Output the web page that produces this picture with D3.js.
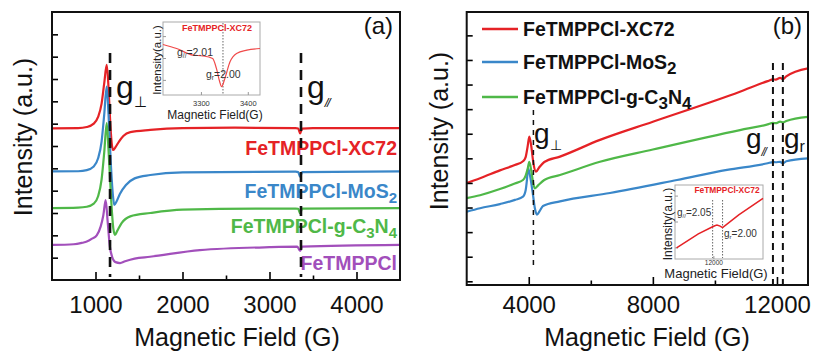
<!DOCTYPE html>
<html>
<head>
<meta charset="utf-8">
<script src="https://cdn.jsdelivr.net/npm/d3@7/dist/d3.min.js"></script>
<style>
body { margin: 0; background: #fff; }
svg { display: block; font-family: "Liberation Sans", Arial, sans-serif; }
</style>
</head>
<body>
<script>
// ---- data: [magnetic field (G), intensity (a.u.)] ----
const names = ["FeTMPPCl-XC72", "FeTMPPCl-MoS2", "FeTMPPCl-g-C3N4", "FeTMPPCl"];
const nameParts = [
    [["FeTMPPCl-XC72", 0]],
    [["FeTMPPCl-MoS", 0], ["2", 1]],
    [["FeTMPPCl-g-C", 0], ["3", 1], ["N", 0], ["4", 1]],
    [["FeTMPPCl", 0]]
];
const colors = ["#e52226", "#3a87c9", "#4fb848", "#a24fbb"];

// panel (a)
const xc72A = [[500,6.79],[800,6.80],[900,6.85],[980,7.0],[1030,7.3],[1070,7.9],[1100,8.8],[1129,9.63],[1150,8.6],[1170,7.0],[1190,6.0],[1205,5.82],[1230,5.95],[1270,6.2],[1320,6.45],[1400,6.62],[1630,6.72],[2000,6.80],[2600,6.82],[3300,6.80],[3330,6.78],[3352,6.56],[3375,6.78],[3500,6.80],[4500,6.80]];
const mos2A = [[500,4.86],[800,4.87],[900,4.92],[980,5.08],[1030,5.45],[1070,6.2],[1100,7.4],[1129,8.66],[1150,7.4],[1175,5.3],[1200,3.8],[1216,3.36],[1240,3.5],[1280,3.85],[1350,4.25],[1450,4.55],[1630,4.70],[2000,4.82],[3300,4.85],[3330,4.83],[3352,4.62],[3375,4.83],[4500,4.86]];
const c3n4A = [[500,3.22],[800,3.24],[900,3.28],[980,3.42],[1030,3.75],[1070,4.5],[1100,5.7],[1129,7.03],[1150,5.8],[1180,3.6],[1205,2.3],[1224,2.02],[1250,2.2],[1300,2.55],[1400,2.85],[1630,3.0],[2000,3.15],[3300,3.20],[3330,3.19],[3352,2.98],[3375,3.2],[4500,3.22]];
const pureA = [[500,1.57],[750,1.6],[850,1.67],[900,1.72],[960,1.85],[1014,2.0],[1060,2.4],[1090,2.9],[1117,3.58],[1140,2.6],[1165,1.5],[1190,1.05],[1230,0.8],[1282,0.76],[1340,0.84],[1450,0.96],[1626,1.04],[2200,1.34],[3000,1.47],[3320,1.49],[3352,1.3],[3375,1.49],[4500,1.57]];
const xTicksA = [1000, 2000, 3000, 4000];
const xMinorA = [1500, 2500, 3500];
const yTicksA = [1, 2, 3, 4, 5, 6, 7, 8, 9, 10, 11];
const gLinesA = [1167, 3362];

// inset of panel (a)
const insetA = [[3218,6.92],[3247,6.37],[3282,5.46],[3303,5.36],[3324,5.0],[3332,3.64],[3339,1.82],[3343,1.14],[3350,2.27],[3361,4.54],[3375,5.69],[3397,6.14],[3425,6.37]];
const insetTicksA = [3300, 3400];
const insetLineA = 3346;

// panel (b)
const xc72B = [[2000,4.00],[2430,4.19],[3070,4.51],[3550,4.73],[3815,4.88],[3900,5.05],[3960,5.45],[4018,5.88],[4080,5.5],[4150,4.8],[4234,4.46],[4330,4.62],[4500,4.85],[5007,5.07],[6296,5.75],[8000,6.49],[10806,7.71],[11700,8.14],[11870,8.21],[11960,8.20],[12100,8.27],[12194,8.22],[12300,8.33],[13000,8.66]];
const mos2B = [[2000,2.83],[2430,2.97],[3070,3.14],[3557,3.31],[3815,3.44],[3900,3.7],[3940,4.1],[3976,4.6],[4040,4.3],[4137,3.51],[4200,2.95],[4266,2.71],[4350,2.85],[4459,3.06],[5007,3.25],[6619,3.59],[8778,4.12],[10390,4.53],[11700,4.80],[11872,4.85],[11960,4.84],[12100,4.86],[12194,4.80],[12300,4.88],[13000,5.0]];
const c3n4B = [[2000,3.38],[2430,3.50],[3070,3.75],[3550,3.98],[3815,4.12],[3900,4.3],[3960,4.55],[4018,4.86],[4080,4.5],[4150,3.95],[4200,3.78],[4300,3.9],[4500,4.12],[5007,4.32],[6296,4.86],[8000,5.36],[10806,6.15],[11700,6.38],[11870,6.44],[11960,6.43],[12100,6.49],[12194,6.46],[12300,6.52],[13000,6.69]];
const xTicksB = [4000, 8000, 12000];
const xMinorB = [6000, 10000];
const yTicksB = [0, 1, 2, 3, 4, 5, 6, 7, 8, 9, 10];
const gPerpB = 4150;
const gParB = [11870, 12190];

// inset of panel (b)
const insetB = [[10800,1.49],[11500,3.39],[11960,4.36],[12030,4.50],[12100,4.59],[12200,4.45],[12280,4.23],[12800,5.97],[13580,8.2]];
const insetTicksB = [12000];
const insetLinesB = [11960, 12280];

const width = 813, height = 353;
const svg = d3.select("body").append("svg")
    .attr("width", width)
    .attr("height", height);

const defs = svg.append("defs");
defs.append("clipPath").attr("id", "clipA").append("rect")
    .attr("x", 52).attr("y", 12).attr("width", 348).attr("height", 268);
defs.append("clipPath").attr("id", "clipB").append("rect")
    .attr("x", 466.7).attr("y", 12).attr("width", 341.3).attr("height", 273);
defs.append("clipPath").attr("id", "clipAll").append("rect")
    .attr("x", 0).attr("y", 0).attr("width", 808.5).attr("height", height);

function textWithSubs(g, parts, x, y, size, subSize, shift){
    const t = g.append("text").attr("x", x).attr("y", y).style("font-size", size + "px");
    let low = false;
    parts.forEach(p => {
        const s = t.append("tspan").text(p[0]);
        if(p[1] && !low){ s.attr("dy", shift); low = true; }
        else if(!p[1] && low){ s.attr("dy", -shift); low = false; }
        if(p[1]) s.style("font-size", subSize + "px");
    });
    return t;
}

function axesFor(xs, ys, bottom, left, majors, minors, yTicks, pad, yTick){
    const gx = svg.append("g")
        .attr("transform", `translate(0, ${bottom})`)
        .call(d3.axisBottom(xs).tickValues(majors).tickSize(-8).tickPadding(pad).tickFormat(d3.format("d")))
        .attr("font-size", 24)
        .attr("font-family", "Liberation Sans, Arial, sans-serif");
    gx.select(".domain").remove();
    gx.selectAll("line").attr("stroke-width", 1.6);
    gx.selectAll("text").attr("fill", "#111");

    const gm = svg.append("g")
        .attr("transform", `translate(0, ${bottom})`)
        .call(d3.axisBottom(xs).tickValues(minors).tickSize(-4.5).tickFormat(""));
    gm.select(".domain").remove();
    gm.selectAll("line").attr("stroke-width", 1.6);

    const gy = svg.append("g")
        .attr("transform", `translate(${left}, 0)`)
        .call(d3.axisLeft(ys).tickValues(yTicks).tickSize(-yTick).tickFormat(""));
    gy.select(".domain").remove();
    gy.selectAll("line").attr("stroke-width", 1.6);
}

// ================= panel (a) =================
const xA = d3.scaleLinear().domain([500, 4500]).range([52, 400]);
const yA = d3.scaleLinear().domain([0, 12]).range([280, 12]);
const lineA = d3.line().x(d => xA(d[0])).y(d => yA(d[1])).curve(d3.curveMonotoneX);

const curvesA = svg.append("g").attr("clip-path", "url(#clipA)");
[xc72A, mos2A, c3n4A, pureA].forEach((s, i) => {
    curvesA.append("path")
        .attr("d", lineA(s))
        .attr("fill", "none")
        .attr("stroke", colors[i])
        .attr("stroke-width", 2.2)
        .attr("stroke-linejoin", "round");
});

const labelYA = [155, 198, 233, 270];
nameParts.forEach((p, i) => {
    textWithSubs(svg, p, 397, labelYA[i], 19.5, 15, 5)
        .attr("text-anchor", "end")
        .attr("font-weight", "bold")
        .attr("fill", colors[i]);
});

// dashed g markers sit on top of curves and labels
svg.selectAll(".gLineA")
    .data(gLinesA)
    .enter()
    .append("line")
    .attr("class", "gLineA")
    .attr("x1", d => xA(d)).attr("x2", d => xA(d))
    .attr("y1", 53).attr("y2", 277)
    .attr("stroke", "#111")
    .attr("stroke-width", 2.6)
    .attr("stroke-dasharray", "10,7");

axesFor(xA, yA, 280, 52, xTicksA, xMinorA, yTicksA, 16, 6);

svg.append("rect")
    .attr("x", 52).attr("y", 12).attr("width", 348).attr("height", 268)
    .attr("fill", "none").attr("stroke", "#111").attr("stroke-width", 2);

svg.append("text").attr("x", 393).attr("y", 34).attr("text-anchor", "end")
    .style("font-size", "24px").attr("fill", "#111").text("(a)");

textWithSubs(svg, [["g", 0], ["\u22A5", 1]], 116, 98, 32, 15, 9).attr("fill", "#111");
textWithSubs(svg, [["g", 0], ["//", 1]], 307, 98, 32, 13, 9).attr("fill", "#111")
    .selectAll("tspan").filter((d, i) => i == 1).attr("letter-spacing", -1.5).style("font-style", "italic");

svg.append("text")
    .attr("x", 237).attr("y", 346)
    .attr("text-anchor", "middle")
    .style("font-size", "25px").attr("fill", "#111")
    .text("Magnetic Field (G)");
svg.append("text")
    .attr("transform", "translate(32, 137) rotate(-90)")
    .attr("text-anchor", "middle")
    .style("font-size", "25px").attr("fill", "#111")
    .text("Intensity (a.u.)");

// inset (a)
const xIa = d3.scaleLinear().domain([3218, 3425]).range([163, 260]);
const yIa = d3.scaleLinear().domain([0, 10]).range([95, 22]);
const insetGa = svg.append("g");
insetGa.append("rect")
    .attr("x", 163).attr("y", 22).attr("width", 97).attr("height", 73)
    .attr("fill", "none").attr("stroke", "#aaa").attr("stroke-width", 1);
insetGa.selectAll(".itick")
    .data(insetTicksA).enter().append("line")
    .attr("x1", d => xIa(d)).attr("x2", d => xIa(d))
    .attr("y1", 95).attr("y2", 92).attr("stroke", "#999");
insetGa.selectAll(".ilab")
    .data(insetTicksA).enter().append("text")
    .attr("x", d => xIa(d)).attr("y", 106)
    .attr("text-anchor", "middle").style("font-size", "7.5px").attr("fill", "#333")
    .text(d => d);
insetGa.selectAll(".iytick")
    .data([2, 5, 8]).enter().append("line")
    .attr("x1", 163).attr("x2", 166)
    .attr("y1", d => yIa(d)).attr("y2", d => yIa(d)).attr("stroke", "#999");
insetGa.append("line")
    .attr("x1", xIa(insetLineA)).attr("x2", xIa(insetLineA))
    .attr("y1", 23).attr("y2", 94)
    .attr("stroke", "#666").attr("stroke-width", 1).attr("stroke-dasharray", "1.5,1.5");
insetGa.append("path")
    .attr("d", d3.line().x(d => xIa(d[0])).y(d => yIa(d[1])).curve(d3.curveMonotoneX)(insetA))
    .attr("fill", "none").attr("stroke", "#f04a4a").attr("stroke-width", 1.2);
insetGa.append("text").attr("x", 217).attr("y", 31).attr("text-anchor", "middle")
    .style("font-size", "9px").attr("font-weight", "bold").attr("fill", "#e52226")
    .text("FeTMPPCl-XC72");
textWithSubs(insetGa, [["g", 0], ["//", 1], ["=2.01", 0]], 177, 56, 10.5, 6.5, 2).attr("fill", "#333");
textWithSubs(insetGa, [["g", 0], ["r", 1], ["=2.00", 0]], 206, 78, 10.5, 6.5, 2).attr("fill", "#333");
insetGa.append("text").attr("x", 215).attr("y", 119).attr("text-anchor", "middle")
    .style("font-size", "12px").attr("fill", "#222").text("Magnetic Field(G)");
insetGa.append("text").attr("transform", "translate(161, 60) rotate(-90)").attr("text-anchor", "middle")
    .style("font-size", "11.5px").attr("fill", "#222").text("Intensity(a.u.)");

// ================= panel (b) =================
const xB = d3.scaleLinear().domain([2000, 13000]).range([466.7, 808]);
const yB = d3.scaleLinear().domain([-0.15, 10.95]).range([285, 12]);
const lineB = d3.line().x(d => xB(d[0])).y(d => yB(d[1])).curve(d3.curveMonotoneX);

const curvesB = svg.append("g").attr("clip-path", "url(#clipB)");
[xc72B, mos2B, c3n4B].forEach((s, i) => {
    curvesB.append("path")
        .attr("d", lineB(s))
        .attr("fill", "none")
        .attr("stroke", colors[i])
        .attr("stroke-width", 2.2)
        .attr("stroke-linejoin", "round");
});

svg.append("line")
    .attr("x1", xB(gPerpB)).attr("x2", xB(gPerpB))
    .attr("y1", 110).attr("y2", 268)
    .attr("stroke", "#111").attr("stroke-width", 1.5).attr("stroke-dasharray", "5,5");
svg.selectAll(".gLineB")
    .data(gParB).enter().append("line")
    .attr("class", "gLineB")
    .attr("x1", d => xB(d)).attr("x2", d => xB(d))
    .attr("y1", 63).attr("y2", 285)
    .attr("stroke", "#111").attr("stroke-width", 2).attr("stroke-dasharray", "7,5");

axesFor(xB, yB, 285, 466.7, xTicksB, xMinorB, yTicksB, 11, 6);

svg.append("rect")
    .attr("x", 466.7).attr("y", 12).attr("width", 341.3).attr("height", 273)
    .attr("fill", "none").attr("stroke", "#111").attr("stroke-width", 2);

const legendY = [29, 62, 97];
legendY.forEach((y, i) => {
    svg.append("line")
        .attr("x1", 482).attr("x2", 518).attr("y1", y).attr("y2", y)
        .attr("stroke", colors[i]).attr("stroke-width", 2.5);
    textWithSubs(svg, nameParts[i], 523, y + 6.5, 19.5, 17, 5)
        .attr("font-weight", "bold").attr("fill", "#111");
});

svg.append("text").attr("x", 802).attr("y", 34).attr("text-anchor", "end")
    .style("font-size", "24px").attr("fill", "#111").text("(b)");

textWithSubs(svg, [["g", 0], ["\u22A5", 1]], 534, 143, 28, 14, 7).attr("fill", "#111");
textWithSubs(svg, [["g", 0], ["//", 1]], 746, 148, 28, 12, 8).attr("fill", "#111")
    .selectAll("tspan").filter((d, i) => i == 1).attr("letter-spacing", -1.5).style("font-style", "italic");
textWithSubs(svg, [["g", 0], ["r", 1]], 784, 148, 28, 16, 4).attr("fill", "#111")
    .attr("clip-path", "url(#clipAll)");

svg.append("text")
    .attr("x", 647).attr("y", 346)
    .attr("text-anchor", "middle")
    .style("font-size", "25px").attr("fill", "#111")
    .text("Magnetic Field (G)");
svg.append("text")
    .attr("transform", "translate(448, 131) rotate(-90)")
    .attr("text-anchor", "middle")
    .style("font-size", "25px").attr("fill", "#111")
    .text("Intensity (a.u.)");

// inset (b)
const xIb = d3.scaleLinear().domain([10750, 13580]).range([675, 763]);
const yIb = d3.scaleLinear().domain([0, 10]).range([259, 185]);
const insetGb = svg.append("g");
insetGb.append("rect")
    .attr("x", 675).attr("y", 185).attr("width", 88).attr("height", 74)
    .attr("fill", "none").attr("stroke", "#aaa").attr("stroke-width", 1);
insetGb.selectAll(".itick")
    .data(insetTicksB).enter().append("line")
    .attr("x1", d => xIb(d)).attr("x2", d => xIb(d))
    .attr("y1", 259).attr("y2", 256).attr("stroke", "#999");
insetGb.selectAll(".ilab")
    .data(insetTicksB).enter().append("text")
    .attr("x", d => xIb(d)).attr("y", 265)
    .attr("text-anchor", "middle").style("font-size", "6.5px").attr("fill", "#333")
    .text(d => d);
insetGb.selectAll(".iytick")
    .data([1.5, 5, 8.5]).enter().append("line")
    .attr("x1", 675).attr("x2", 678)
    .attr("y1", d => yIb(d)).attr("y2", d => yIb(d)).attr("stroke", "#999");
insetGb.selectAll(".iline")
    .data(insetLinesB).enter().append("line")
    .attr("x1", d => xIb(d)).attr("x2", d => xIb(d))
    .attr("y1", 200).attr("y2", 258)
    .attr("stroke", "#666").attr("stroke-width", 1).attr("stroke-dasharray", "1.5,1.5");
insetGb.append("path")
    .attr("d", d3.line().x(d => xIb(d[0])).y(d => yIb(d[1]))(insetB))
    .attr("fill", "none").attr("stroke", "#e52226").attr("stroke-width", 1.5);
insetGb.append("text").attr("x", 727).attr("y", 193).attr("text-anchor", "middle")
    .style("font-size", "8.4px").attr("font-weight", "bold").attr("fill", "#e52226")
    .text("FeTMPPCl-XC72");
textWithSubs(insetGb, [["g", 0], ["//", 1], ["=2.05", 0]], 677, 216, 10, 6, 2).attr("fill", "#333");
textWithSubs(insetGb, [["g", 0], ["r", 1], ["=2.00", 0]], 724, 237, 10, 6, 2).attr("fill", "#333");
insetGb.append("text").attr("x", 716).attr("y", 278).attr("text-anchor", "middle")
    .style("font-size", "13px").attr("fill", "#222").text("Magnetic Field(G)");
insetGb.append("text").attr("transform", "translate(672, 224) rotate(-90)").attr("text-anchor", "middle")
    .style("font-size", "12px").attr("fill", "#222").text("Intensity(a.u.)");
</script>
</body>
</html>
